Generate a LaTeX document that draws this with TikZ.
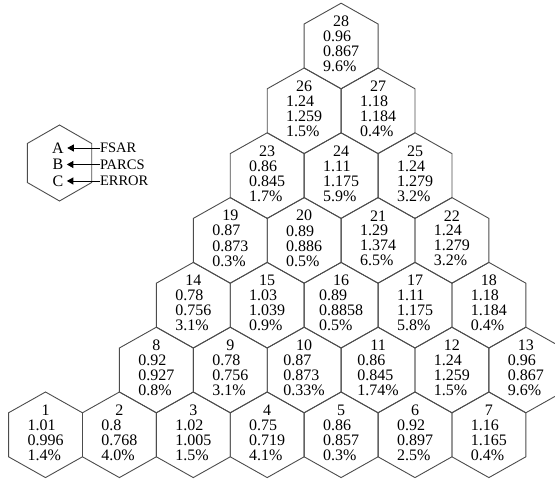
\documentclass[tikz,border=0pt]{standalone}
\usepackage{fontspec}
\setmainfont{Liberation Serif}
\usetikzlibrary{arrows.meta}
\tikzset{
  hexline/.style={draw=black!70, line width=0.9pt},
  pics/hexagon/.style={code={
    \draw[hexline] (0,42.8) -- (36.95,22) -- (36.95,-22) -- (0,-42.8)
      -- (-36.95,-22) -- (-36.95,22) -- cycle;}},
  cell/.style={inner sep=0pt, outer sep=0pt, font=\fontsize{16}{14.6}\selectfont},
  letter/.style={inner sep=0pt, outer sep=0pt, font=\fontsize{16}{16}\selectfont},
  tag/.style={inner sep=0pt, outer sep=0pt, anchor=west, font=\fontsize{14.5}{14.5}\selectfont},
  pointer/.style={draw=black, line width=0.9pt, -{Triangle[length=6.5pt,width=7pt]}, shorten >=3.5pt}
}
\newcommand\hexcell[7]{%
  \pic at (#2,#3) {hexagon};
  \node[cell] (#1) at (#2,#3) {\begin{tabular}{@{}l@{}}\multicolumn{1}{@{}c@{}}{#4}\\#5\\#6\\#7\end{tabular}};}
\begin{document}
\begin{tikzpicture}[x=1pt,y=1pt]
\useasboundingbox (0,0) rectangle (555,479);
\clip (0,0) rectangle (555,479);
% row 1 (y = 44.2)
\hexcell{h1}{45.5}{44.2}{1}{1.01}{0.996}{1.4\%}
\hexcell{h2}{119.4}{44.2}{2}{0.8}{0.768}{4.0\%}
\hexcell{h3}{193.3}{44.2}{3}{1.02}{1.005}{1.5\%}
\hexcell{h4}{267.2}{44.2}{4}{0.75}{0.719}{4.1\%}
\hexcell{h5}{341.1}{44.2}{5}{0.86}{0.857}{0.3\%}
\hexcell{h6}{415.0}{44.2}{6}{0.92}{0.897}{2.5\%}
\hexcell{h7}{488.9}{44.2}{7}{1.16}{1.165}{0.4\%}
% row 2 (y = 109)
\hexcell{h8}{156.35}{109}{8}{0.92}{0.927}{0.8\%}
\hexcell{h9}{230.25}{109}{9}{0.78}{0.756}{3.1\%}
\hexcell{h10}{304.15}{109}{10}{0.87}{0.873}{0.33\%}
\hexcell{h11}{378.05}{109}{11}{0.86}{0.845}{1.74\%}
\hexcell{h12}{451.95}{109}{12}{1.24}{1.259}{1.5\%}
\hexcell{h13}{525.85}{109}{13}{0.96}{0.867}{9.6\%}
% row 3 (y = 173.8)
\hexcell{h14}{193.3}{173.8}{14}{0.78}{0.756}{3.1\%}
\hexcell{h15}{267.2}{173.8}{15}{1.03}{1.039}{0.9\%}
\hexcell{h16}{341.1}{173.8}{16}{0.89}{0.8858}{0.5\%}
\hexcell{h17}{415.0}{173.8}{17}{1.11}{1.175}{5.8\%}
\hexcell{h18}{488.9}{173.8}{18}{1.18}{1.184}{0.4\%}
% row 4 (y = 238.6)
\hexcell{h19}{230.25}{238.6}{19}{0.87}{0.873}{0.3\%}
\hexcell{h20}{304.15}{238.6}{20}{0.89}{0.886}{0.5\%}
\hexcell{h21}{378.05}{238.6}{21}{1.29}{1.374}{6.5\%}
\hexcell{h22}{451.95}{238.6}{22}{1.24}{1.279}{3.2\%}
% row 5 (y = 303.4)
\hexcell{h23}{267.2}{303.4}{23}{0.86}{0.845}{1.7\%}
\hexcell{h24}{341.1}{303.4}{24}{1.11}{1.175}{5.9\%}
\hexcell{h25}{415.0}{303.4}{25}{1.24}{1.279}{3.2\%}
% row 6 (y = 368.2)
\hexcell{h26}{304.15}{368.2}{26}{1.24}{1.259}{1.5\%}
\hexcell{h27}{378.05}{368.2}{27}{1.18}{1.184}{0.4\%}
% row 7 (y = 433)
\hexcell{h28}{341.1}{433}{28}{0.96}{0.867}{9.6\%}
% legend
\draw[hexline, shift={(59.5,316)}] (0,38) -- (32.2,19.5) -- (32.2,-19.5) -- (0,-38)
  -- (-32.2,-19.5) -- (-32.2,19.5) -- cycle;
\node[letter] (la) at (58,331) {A};
\node[letter] (lb) at (58,314.5) {B};
\node[letter] (lc) at (58,298) {C};
\node[tag] (fsar) at (100,331) {FSAR};
\node[tag] (parcs) at (100,314.5) {PARCS};
\node[tag] (error) at (100,298) {ERROR};
\draw[pointer] (fsar.west) -- (fsar.west -| la.east);
\draw[pointer] (parcs.west) -- (parcs.west -| lb.east);
\draw[pointer] (error.west) -- (error.west -| lc.east);
\end{tikzpicture}
\end{document}
